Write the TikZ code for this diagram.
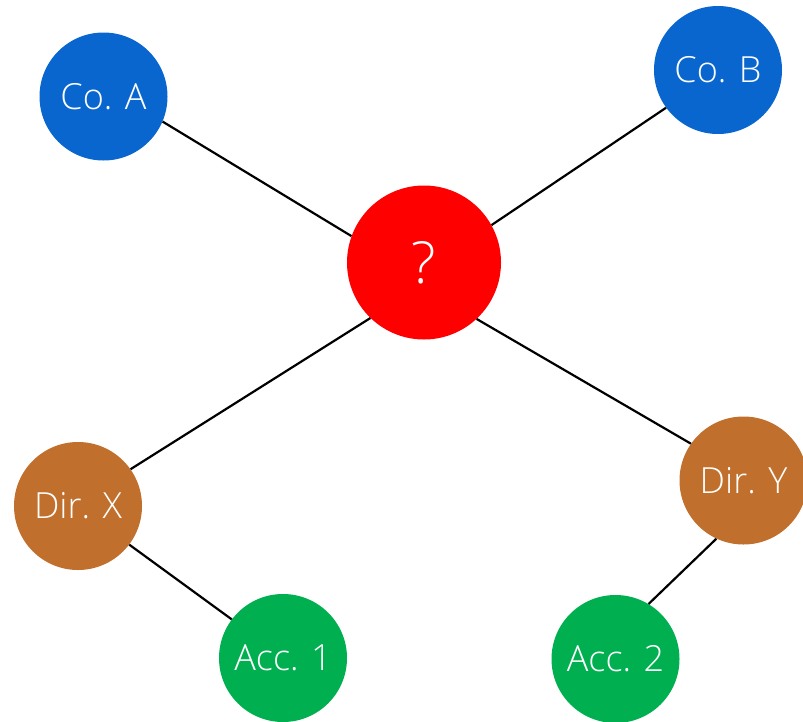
\documentclass[tikz,border=0pt]{standalone}
\usepackage{fontspec}
\setmainfont{Open Sans Light}
\definecolor{coblue}{HTML}{0A66CF}
\definecolor{qred}{HTML}{FF0000}
\definecolor{dirbrown}{HTML}{C0702C}
\definecolor{accgreen}{HTML}{00B050}

\begin{document}
\begin{tikzpicture}[x=1pt,y=-1pt,
  circ/.style={circle, inner sep=0pt, minimum size=128pt, text=white,
    font=\fontsize{36}{40}\selectfont},
  edge/.style={line width=2.2pt}]
\useasboundingbox (0,0) rectangle (803,721);

% Empresas
\node[circ, fill=coblue] (coA) at (103.5,96.5) {Co. A};
\node[circ, fill=coblue] (coB) at (718,70) {Co. B};

% Centro
\node[circ, fill=qred, minimum size=154pt, font=\fontsize{58}{62}\selectfont] (q) at (424,262.5) {?};

% Diretores
\node[circ, fill=dirbrown] (dirX) at (78,506) {Dir. X};
\node[circ, fill=dirbrown] (dirY) at (743.5,480.5) {Dir. Y};

% Contas
\node[circ, fill=accgreen] (acc1) at (283,658) {Acc. 1};
\node[circ, fill=accgreen] (acc2) at (615.5,659) {Acc. 2};

% Ligações
\draw[edge] (coA.-23) -- (q.160);
\draw[edge] (coB.216) -- (q.29);
\draw[edge] (q.226) -- (dirX.35);
\draw[edge] (q.-47) -- (dirY.145);
\draw[edge] (dirX.-37) -- (acc1.143);
\draw[edge] (dirY.245) -- (acc2.59);
\end{tikzpicture}
\end{document}
